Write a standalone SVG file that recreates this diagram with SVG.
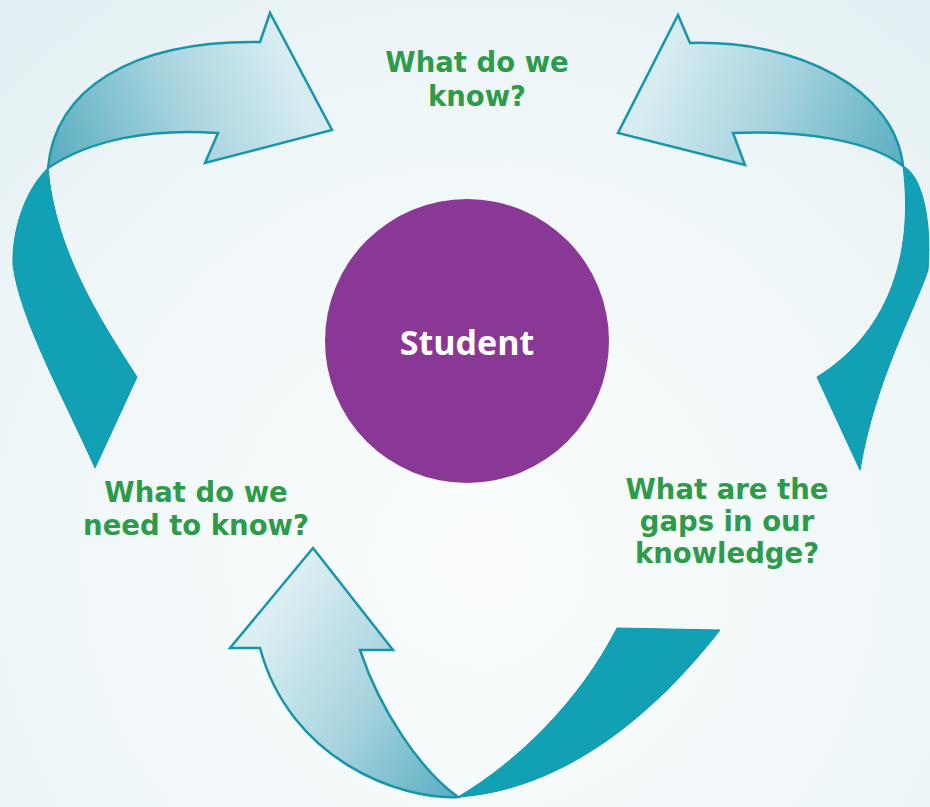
<svg xmlns="http://www.w3.org/2000/svg" width="930" height="807" viewBox="0 0 930 807">
  <defs>
    <radialGradient id="bg" cx="480" cy="560" r="720" gradientUnits="userSpaceOnUse">
      <stop offset="0" stop-color="#fbfdfd"/>
      <stop offset="0.6" stop-color="#f0f7f9"/>
      <stop offset="1" stop-color="#e3eff3"/>
    </radialGradient>
    <linearGradient id="gTL" x1="55" y1="170" x2="290" y2="70" gradientUnits="userSpaceOnUse">
      <stop offset="0" stop-color="#5aaec0"/>
      <stop offset="0.55" stop-color="#a8d4df"/>
      <stop offset="1" stop-color="#d6ecf1"/>
    </linearGradient>
    <linearGradient id="gTR" x1="900" y1="170" x2="660" y2="70" gradientUnits="userSpaceOnUse">
      <stop offset="0" stop-color="#5aaec0"/>
      <stop offset="0.55" stop-color="#a8d4df"/>
      <stop offset="1" stop-color="#d6ecf1"/>
    </linearGradient>
    <linearGradient id="gB" x1="460" y1="790" x2="250" y2="650" gradientUnits="userSpaceOnUse">
      <stop offset="0" stop-color="#5aaec0"/>
      <stop offset="0.5" stop-color="#a8d4df"/>
      <stop offset="1" stop-color="#dbeef2"/>
    </linearGradient>
  </defs>
  <style>
    .light { stroke: #1895a9; stroke-width: 2.5; stroke-linejoin: miter; }
    .dark { fill: #11a0b4; stroke: #0f98ac; stroke-width: 1; }
    .q { font-family: "DejaVu Sans", "Liberation Sans", sans-serif; font-weight: 700; font-size: 27.5px; fill: #2e9b4b; text-anchor: middle; }
    .s { font-family: "Open Sans", "Liberation Sans", sans-serif; font-weight: 700; font-size: 34px; fill: #ffffff; text-anchor: middle; }
  </style>
  <rect x="0" y="0" width="930" height="807" fill="url(#bg)"/>

  <g id="connectors">
    <g id="arrow-left">
      <path class="dark" d="M48,168 C25,190 12,230 13,265 C20,320 65,400 95,468 L137,377 C100,320 55,250 48,168 Z"/>
      <path class="light" fill="url(#gTL)" d="M48,168 C55,90 130,40 260,42 L270,13 L332,130 L205,163 L218,133 C150,128 90,140 48,168 Z"/>
    </g>
    <g id="arrow-right">
      <path class="dark" d="M903,166 C922,175 932,220 928,270 C915,310 875,380 860,470 L817,377 C885,335 915,260 903,166 Z"/>
      <path class="light" fill="url(#gTR)" d="M903,166 C895,90 800,40 690,43 L678,15 L618,133 L745,165 L733,133 C800,130 870,140 903,166 Z"/>
    </g>
    <g id="arrow-bottom">
      <path class="dark" d="M458,797 C520,760 580,700 617,628 L720,630 C650,720 560,790 458,797 Z"/>
      <path class="light" fill="url(#gB)" d="M458,797 C400,800 290,760 260,648 L230,648 L313,548 L393,650 L360,650 C380,710 420,770 458,797 Z"/>
    </g>
  </g>

  <g id="student">
    <circle cx="467" cy="341" r="142" fill="#8a3895"/>
    <text class="s" x="467" y="355">Student</text>
  </g>

  <g id="know">
    <text class="q"><tspan x="477" y="72">What do we</tspan><tspan x="477" y="106">know?</tspan></text>
  </g>

  <g id="need">
    <text class="q"><tspan x="196" y="502">What do we</tspan><tspan x="196" y="535">need to know?</tspan></text>
  </g>

  <g id="gaps">
    <text class="q"><tspan x="727" y="499">What are the</tspan><tspan x="727" y="531">gaps in our</tspan><tspan x="727" y="563">knowledge?</tspan></text>
  </g>
</svg>
